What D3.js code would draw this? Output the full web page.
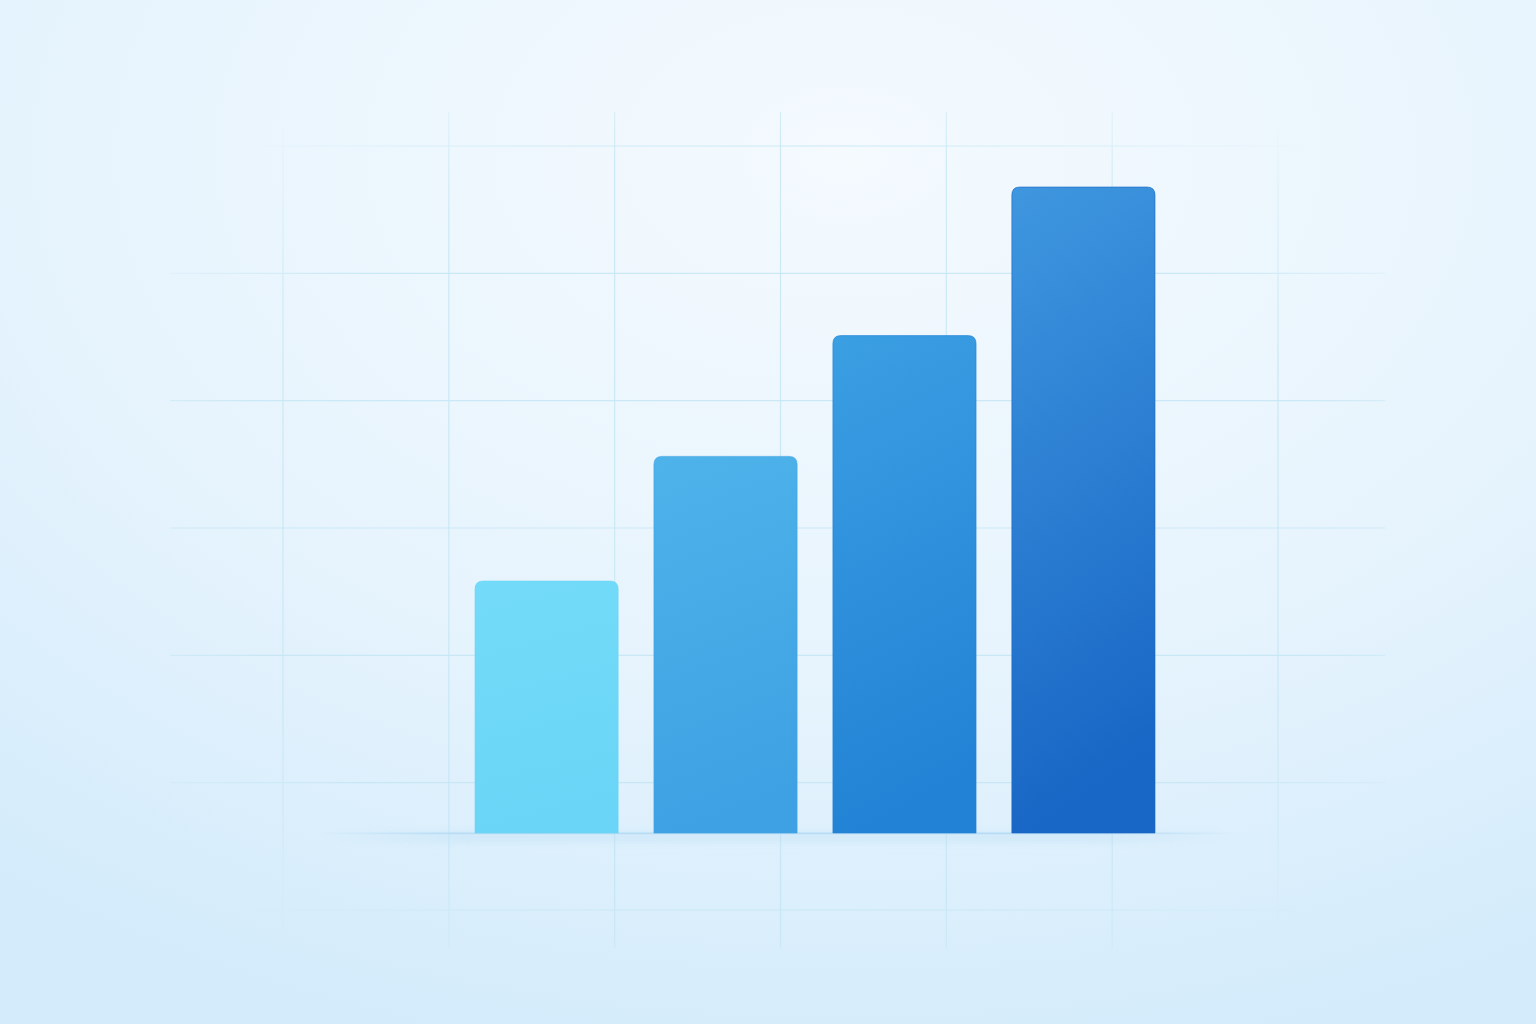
<!DOCTYPE html>
<html>
<head>
<meta charset="utf-8">
<script src="https://cdn.jsdelivr.net/npm/d3@7"></script>
<style>
  html, body { margin: 0; padding: 0; overflow: hidden; }
  svg { display: block; }
</style>
</head>
<body>
<svg width="1536" height="1024"></svg>
<script>
// data
const categories = ['A', 'B', 'C', 'D'];
const values = [39, 58.3, 77, 100];
const topColors = ['#73dbf9', '#4eb3ea', '#3b9fe3', '#3f97df'];
const bottomColors = ['#6ad5f6', '#3ea1e3', '#2282d5', '#1866c5'];
const gridRows = [0, 1, 2, 3, 4, 5, 6];
const gridCols = [0, 1, 2, 3, 4, 5, 6];

const W = 1536, H = 1024;
const baseY = 833;

const svg = d3.select('svg');
const defs = svg.append('defs');

// background
const bg = defs.append('radialGradient')
    .attr('id', 'bg')
    .attr('cx', '55%').attr('cy', '15%').attr('r', '90%');
bg.append('stop').attr('offset', '0%').attr('stop-color', '#f4fafe');
bg.append('stop').attr('offset', '55%').attr('stop-color', '#e7f4fd');
bg.append('stop').attr('offset', '100%').attr('stop-color', '#d3ebfb');

svg.append('rect').attr('width', W).attr('height', H).attr('fill', 'url(#bg)');

// fade mask for the grid
const fade = defs.append('radialGradient').attr('id', 'fade')
    .attr('cx', '50%').attr('cy', '50%').attr('r', '62%');
fade.append('stop').attr('offset', '0%').attr('stop-color', '#fff');
fade.append('stop').attr('offset', '72%').attr('stop-color', '#fff');
fade.append('stop').attr('offset', '100%').attr('stop-color', '#000');
defs.append('mask').attr('id', 'gridMask')
    .attr('maskUnits', 'userSpaceOnUse')
    .attr('x', 0).attr('y', 0).attr('width', W).attr('height', H)
  .append('rect')
    .attr('x', 160).attr('y', 100).attr('width', 1240).attr('height', 860)
    .attr('fill', 'url(#fade)');

// grid scales
const gy = d3.scaleLinear().domain([0, 6]).range([146, 910]);
const gx = d3.scaleLinear().domain([0, 6]).range([283, 1278]);

const grid = svg.append('g').attr('mask', 'url(#gridMask)')
    .attr('stroke', '#c2e5f2').attr('stroke-width', 1.2)
    .attr('stroke-opacity', 0.8);

grid.selectAll('.hline')
    .data(gridRows)
    .enter()
    .append('line')
    .attr('x1', 170).attr('x2', 1385)
    .attr('y1', d => gy(d)).attr('y2', d => gy(d));

grid.selectAll('.vline')
    .data(gridCols)
    .enter()
    .append('line')
    .attr('x1', d => gx(d)).attr('x2', d => gx(d))
    .attr('y1', 112).attr('y2', 948);

// bar scales
const xScale = d3.scaleBand()
    .domain(categories)
    .range([475, 1155])
    .paddingInner(0.2)
    .paddingOuter(0);

const yScale = d3.scaleLinear()
    .domain([0, 100])
    .range([baseY, 187]);

// baseline shadow
const blur = defs.append('filter').attr('id', 'blur')
    .attr('x', '-10%').attr('y', '-200%').attr('width', '120%').attr('height', '500%');
blur.append('feGaussianBlur').attr('stdDeviation', 4);

const baseGrad = defs.append('linearGradient').attr('id', 'baseGrad');
baseGrad.append('stop').attr('offset', '0%').attr('stop-color', '#b7dcf4').attr('stop-opacity', 0);
baseGrad.append('stop').attr('offset', '15%').attr('stop-color', '#b7dcf4').attr('stop-opacity', 1);
baseGrad.append('stop').attr('offset', '85%').attr('stop-color', '#b7dcf4').attr('stop-opacity', 1);
baseGrad.append('stop').attr('offset', '100%').attr('stop-color', '#b7dcf4').attr('stop-opacity', 0);

svg.append('rect')
    .attr('x', 330).attr('y', baseY).attr('width', 900).attr('height', 8)
    .attr('fill', 'url(#baseGrad)').attr('opacity', 0.45)
    .attr('filter', 'url(#blur)');
svg.append('rect')
    .attr('x', 320).attr('y', baseY - 0.5).attr('width', 920).attr('height', 1.8)
    .attr('fill', 'url(#baseGrad)');

// bar gradients
categories.forEach((c, i) => {
    const g = defs.append('linearGradient')
        .attr('id', 'bar' + i)
        .attr('x1', 0).attr('y1', 0).attr('x2', 0.15).attr('y2', 1);
    g.append('stop').attr('offset', '0%').attr('stop-color', topColors[i]);
    g.append('stop').attr('offset', '100%').attr('stop-color', bottomColors[i]);
});

// rounded top only
function barPath(x, y, w, h, r) {
    return `M${x},${y + h}V${y + r}Q${x},${y} ${x + r},${y}H${x + w - r}Q${x + w},${y} ${x + w},${y + r}V${y + h}Z`;
}

svg.selectAll('.bar')
    .data(values)
    .enter()
    .append('path')
    .classed('bar', true)
    .attr('d', (d, i) => barPath(xScale(categories[i]), yScale(d), xScale.bandwidth(), baseY - yScale(d), 8))
    .attr('fill', (d, i) => `url(#bar${i})`)
    .attr('stroke', (d, i) => bottomColors[i])
    .attr('stroke-opacity', 0.6)
    .attr('stroke-width', 1);
</script>
</body>
</html>
